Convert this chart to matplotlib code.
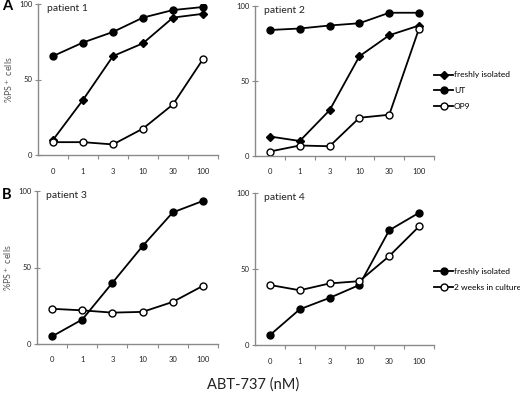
import matplotlib
matplotlib.use("Agg")
import matplotlib.pyplot as plt

plt.rcParams['font.family'] = ['Lato', 'DejaVu Sans']

conc = ["0", "1", "3", "10", "30", "100"]

p1_fresh = [10, 36.5, 65.5, 74, 91, 93.5]
p1_ut = [65.5, 74.5, 81.5, 91, 96, 98]
p1_op9 = [8.5, 8.5, 7, 17.5, 33.5, 63.5]

p2_fresh = [13, 10, 30.5, 66.5, 80.5, 87]
p2_ut = [84, 85, 87, 88.5, 95.5, 95.5]
p2_op9 = [3, 7, 6.5, 25.5, 27.5, 85]

p3_fresh = [5, 16, 40, 64, 86, 93.5]
p3_cult = [23, 22, 20.5, 21, 27.5, 38]

p4_fresh = [6.5, 23.5, 31, 39.5, 75.5, 87]
p4_cult = [39.5, 36, 40.5, 42, 58.5, 78]

fig = plt.figure(figsize=(5.2, 3.96), dpi=100)
W, H = 520, 396

def mk_ax(l, r, t, b):
    return fig.add_axes([l / W, 1 - b / H, (r - l) / W, (b - t) / H])

axcol = '#8a8a8a'
x = list(range(len(conc)))

def style(ax, title, ylabel=True):
    ax.set_xlim(-0.5, 5.5)
    ax.set_ylim(0, 100)
    for s in ['top', 'right']:
        ax.spines[s].set_visible(False)
    for s in ['left', 'bottom']:
        ax.spines[s].set_color(axcol)
        ax.spines[s].set_linewidth(1.0)
    ax.set_yticks([0, 50, 100])
    ax.set_yticklabels(['0', '50', '100'], fontsize=5.5, color='#222222')
    ax.tick_params(axis='y', direction='inout', length=4, color=axcol, pad=2)
    ax.set_xticks([i + 0.5 for i in range(6)])
    ax.set_xticklabels([])
    ax.tick_params(axis='x', which='major', direction='out', length=3, color=axcol)
    ax.set_xticks(x, minor=True)
    ax.set_xticklabels(conc, minor=True, fontsize=5.5, color='#222222')
    ax.tick_params(axis='x', which='minor', length=0, pad=9)
    ax.text(0.05, 1.0, title, transform=ax.transAxes, fontsize=7.5,
            va='top', ha='left', color='#222222')
    if ylabel:
        ax.set_ylabel('%PS$^+$ cells', fontsize=6.5, color='#555555', labelpad=3)

kw_fresh = dict(color='black', marker='D', markersize=3.8, lw=1.3)
kw_ut = dict(color='black', marker='o', markersize=5, lw=1.3)
kw_open = dict(color='black', marker='o', markersize=5, lw=1.3,
               markerfacecolor='white', markeredgecolor='black', markeredgewidth=1.0)

leg_kw = dict(loc='center left', frameon=False, fontsize=6, handlelength=2.3,
              handletextpad=0.1, labelspacing=1.05, borderaxespad=0.0, borderpad=0.0)

ax1 = mk_ax(38, 218, 4, 155)
ax1.plot(x, p1_fresh, **kw_fresh)
ax1.plot(x, p1_ut, **kw_ut)
ax1.plot(x, p1_op9, **kw_open)
style(ax1, 'patient 1')

ax2 = mk_ax(255, 434, 6, 156)
ax2.plot(x, p2_fresh, label='freshly isolated', **kw_fresh)
ax2.plot(x, p2_ut, label='UT', **kw_ut)
ax2.plot(x, p2_op9, label='OP9', **kw_open)
style(ax2, 'patient 2', ylabel=False)
ax2.legend(bbox_to_anchor=(1.0, 0.435), **leg_kw)

ax3 = mk_ax(37, 218, 191, 344)
ax3.plot(x, p3_fresh, **kw_ut)
ax3.plot(x, p3_cult, **kw_open)
style(ax3, 'patient 3')

ax4 = mk_ax(255, 434, 193, 345)
ax4.plot(x, p4_fresh, label='freshly isolated', **kw_ut)
ax4.plot(x, p4_cult, label='2 weeks in culture', **kw_open)
style(ax4, 'patient 4', ylabel=False)
ax4.legend(bbox_to_anchor=(1.0, 0.43), **leg_kw)

fig.text(2 / W, 1 - 6 / H, 'A', fontsize=10.5, fontweight='bold', va='center', ha='left')
fig.text(2 / W, 1 - 195 / H, 'B', fontsize=10.5, fontweight='bold', va='center', ha='left')
fig.text(253 / W, 1 - 385 / H, 'ABT-737 (nM)', fontsize=10.5, va='center', ha='center',
         color='#222222')

fig.savefig('out.png', dpi=100)
